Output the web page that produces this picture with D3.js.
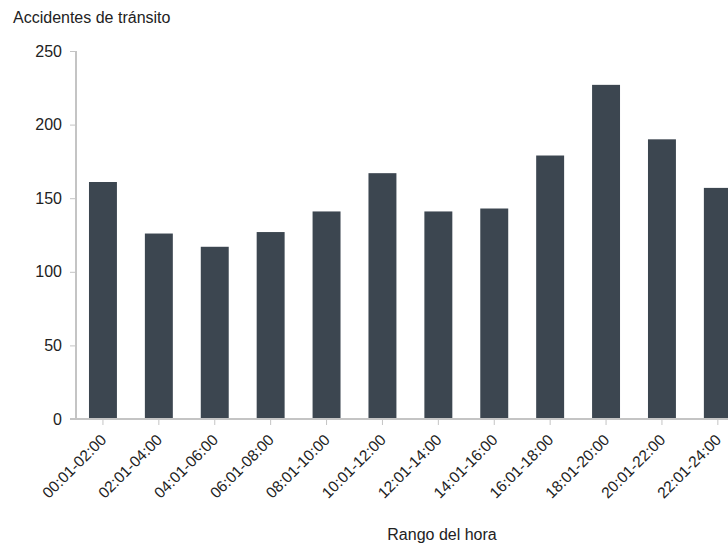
<!DOCTYPE html>
<html><head><meta charset="utf-8">
<script src="https://cdn.jsdelivr.net/npm/d3@7"></script>
<style>
body{margin:0;background:#fff;}
svg{display:block;}
text{font-family:"Liberation Sans",Arial,sans-serif;}
</style></head>
<body>
<svg id="c" width="728" height="546"></svg>
<script>
const categories = ["00:01-02:00","02:01-04:00","04:01-06:00","06:01-08:00","08:01-10:00","10:01-12:00","12:01-14:00","14:01-16:00","16:01-18:00","18:01-20:00","20:01-22:00","22:01-24:00"];
const values = [161,126,117,127,141,167,141,143,179,227,190,157];
const yTicks = [0,50,100,150,200,250];
const yTitle = "Accidentes de tránsito";
const xTitle = "Rango del hora";

(function(){
const svg = d3.select("#c");
const mLeft = 76, mTop = 51, mBottom = 419;
const step = 55.9;
const x = d3.scaleBand().domain(categories)
  .range([mLeft - 1, mLeft - 1 + step * 12])
  .paddingInner(0.5).paddingOuter(0.25);
const y = d3.scaleLinear().domain([0,250]).range([mBottom, mTop]);

svg.selectAll("rect.bar").data(values).join("rect")
  .attr("class","bar")
  .attr("x",(d,i)=>x(categories[i]))
  .attr("width",x.bandwidth())
  .attr("y",d=>y(d))
  .attr("height",d=>mBottom - y(d))
  .attr("fill","#3c4650");

const yAxis = svg.append("g").attr("transform",`translate(${mLeft},0)`)
  .call(d3.axisLeft(y).tickValues(yTicks).tickSize(6).tickPadding(8));
yAxis.select(".domain").attr("stroke","#c4c4c4").attr("stroke-width",2).attr("d",`M0,${mTop}V${mBottom}`);
yAxis.selectAll(".tick line").attr("stroke","#c4c4c4");
yAxis.selectAll(".tick text").attr("font-size",16).attr("fill","#222");

const xAxis = svg.append("g").attr("transform",`translate(0,${mBottom})`)
  .call(d3.axisBottom(x).tickSize(6).tickPadding(6));
xAxis.select(".domain").attr("stroke","#c4c4c4").attr("stroke-width",2).attr("d",`M${mLeft-6},0H${mLeft-1+step*12+20}`);
xAxis.selectAll(".tick line").attr("stroke","#c4c4c4");
xAxis.selectAll(".tick text").attr("font-size",15.5).attr("fill","#222")
  .attr("text-anchor","end")
  .attr("transform","rotate(-45)")
  .attr("dx","-0.8em").attr("dy","0.42em");

svg.append("text").attr("x",13).attr("y",23).attr("font-size",16).attr("fill","#222").text(yTitle);
svg.append("text").attr("x",442).attr("y",540).attr("text-anchor","middle").attr("font-size",16).attr("fill","#222").text(xTitle);
})();
</script>
</body></html>
